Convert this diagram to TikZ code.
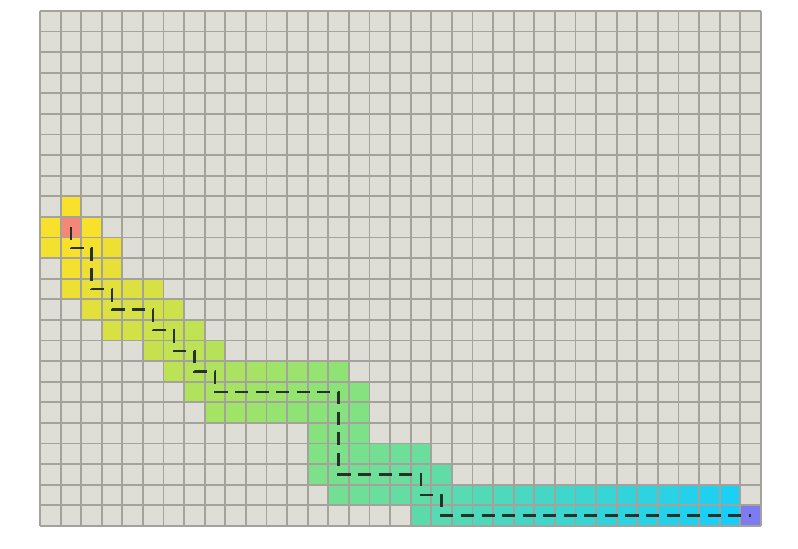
\documentclass[tikz,border=0pt]{standalone}
\definecolor{cellgray}{RGB}{222,222,214}
\definecolor{gridgray}{RGB}{163,163,156}
\definecolor{startred}{RGB}{244,136,120}
\definecolor{goalblue}{RGB}{124,124,240}
\definecolor{pathdark}{RGB}{38,50,40}
\usetikzlibrary{calc}

\begin{document}
\begin{tikzpicture}[x=0.5cm, y=-0.5cm]
    \useasboundingbox (-1.94,-0.53) rectangle (36.80,26.12);

    % Background cells
    \fill[cellgray] (0,0) rectangle (35,25);

    % Visited cells, coloured by distance from start
    \foreach \row/\first/\last in {9/1/1, 10/0/2, 11/0/3, 12/1/3, 13/1/5, 14/2/6,
        15/3/7, 16/5/8, 17/6/14, 18/7/15, 19/8/15, 20/13/15, 21/13/18,
        22/13/19, 23/14/33, 24/18/33}{
        \foreach \col in {\first,...,\last}{
            \pgfmathsetmacro\tval{(abs(\col-1)+abs(\row-10))/46}
            \pgfmathtruncatemacro\rv{\tval<0.45 ? 255-115*\tval/0.45 : 140-118*(\tval-0.45)/0.55}
            \pgfmathtruncatemacro\gv{\tval<0.45 ? 224+4*\tval/0.45 : 228-20*(\tval-0.45)/0.55}
            \pgfmathtruncatemacro\bv{\tval<0.45 ? 40+80*\tval/0.45 : 120+130*(\tval-0.45)/0.55}
            \definecolor{cellcol}{RGB}{\rv,\gv,\bv}
            \fill[cellcol] (\col,\row) rectangle ++(1,1);
        }
    }

    % Start and goal
    \fill[startred] (1,10) rectangle ++(1,1);
    \fill[goalblue] (34,24) rectangle ++(1,1);

    % Grid
    \foreach \i in {0,...,35}
        \draw[gridgray, line width=1.3pt] (\i,0) -- (\i,25);
    \foreach \j in {0,...,25}
        \draw[gridgray, line width=1.3pt] (0,\j) -- (35,\j);

    % Path
    \coordinate (start) at (1.5,10.5);
    \coordinate (goal) at (34.5,24.5);
    \draw[pathdark, line width=1.6pt, dash pattern=on 9pt off 5.2pt]
        (start) |- (2.5,11.5) |- (3.5,13.5) |- (5.5,14.5) |- (6.5,15.5)
        |- (7.5,16.5) |- (8.5,17.5) |- (14.5,18.5) |- (18.5,22.5)
        |- (19.5,23.5) |- (goal);
\end{tikzpicture}
\end{document}
